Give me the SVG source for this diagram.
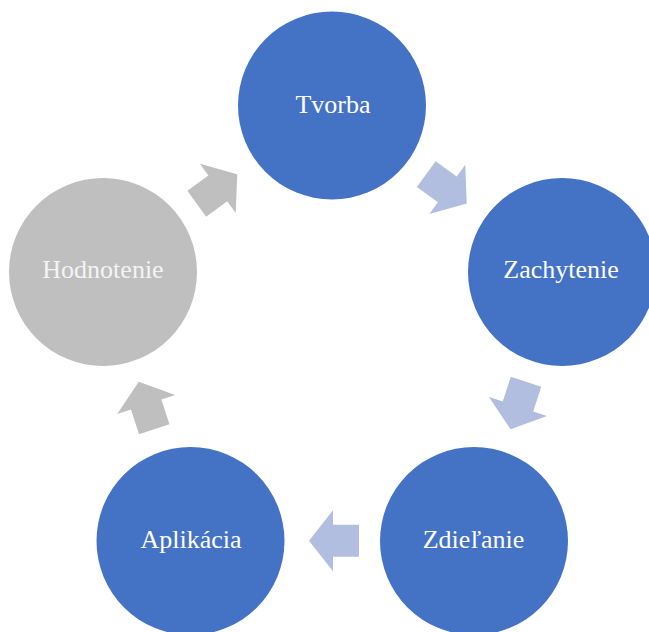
<svg xmlns="http://www.w3.org/2000/svg" width="649" height="632" viewBox="0 0 649 632">
  <defs>
    <style>
      .blue { fill: #4472C4; }
      .gray { fill: #BFBFBF; }
      .lbl { font-family: "Liberation Serif", "Times New Roman", serif; font-size: 26px; fill: #FFFFFF; text-anchor: middle; }
      .lbl-gray { fill: #F4F4F4; }
      .arr-blue { fill: #B2BEE0; }
      .arr-gray { fill: #BFBFBF; }
    </style>
    <path id="arrow" d="M-25,-16 L1,-16 L1,-30.5 L25,0 L1,30.5 L1,16 L-25,16 Z"/>
  </defs>
  <rect width="649" height="632" fill="#FFFFFF"/>

  <g id="connectors">
    <use href="#arrow" class="arr-blue" transform="translate(446.5,188.8) rotate(36)"/>
    <use href="#arrow" class="arr-blue" transform="translate(518.3,405.5) rotate(108)"/>
    <use href="#arrow" class="arr-blue" transform="translate(334,540.7) rotate(180)"/>
    <use href="#arrow" class="arr-gray" transform="translate(146.5,405.5) rotate(252)"/>
    <use href="#arrow" class="arr-gray" transform="translate(217,189) rotate(324)"/>
  </g>

  <g id="node-tvorba">
    <circle class="blue" cx="332" cy="105.5" r="94"/>
    <text class="lbl" x="333" y="113">Tvorba</text>
  </g>
  <g id="node-zachytenie">
    <circle class="blue" cx="562" cy="272" r="94"/>
    <text class="lbl" x="561" y="278">Zachytenie</text>
  </g>
  <g id="node-zdielanie">
    <circle class="blue" cx="474" cy="541" r="94"/>
    <text class="lbl" x="473.5" y="548">Zdieľanie</text>
  </g>
  <g id="node-aplikacia">
    <circle class="blue" cx="190.5" cy="541" r="94"/>
    <text class="lbl" x="191" y="548">Aplikácia</text>
  </g>
  <g id="node-hodnotenie">
    <circle class="gray" cx="103" cy="272" r="94"/>
    <text class="lbl lbl-gray" x="103" y="278">Hodnotenie</text>
  </g>
</svg>
